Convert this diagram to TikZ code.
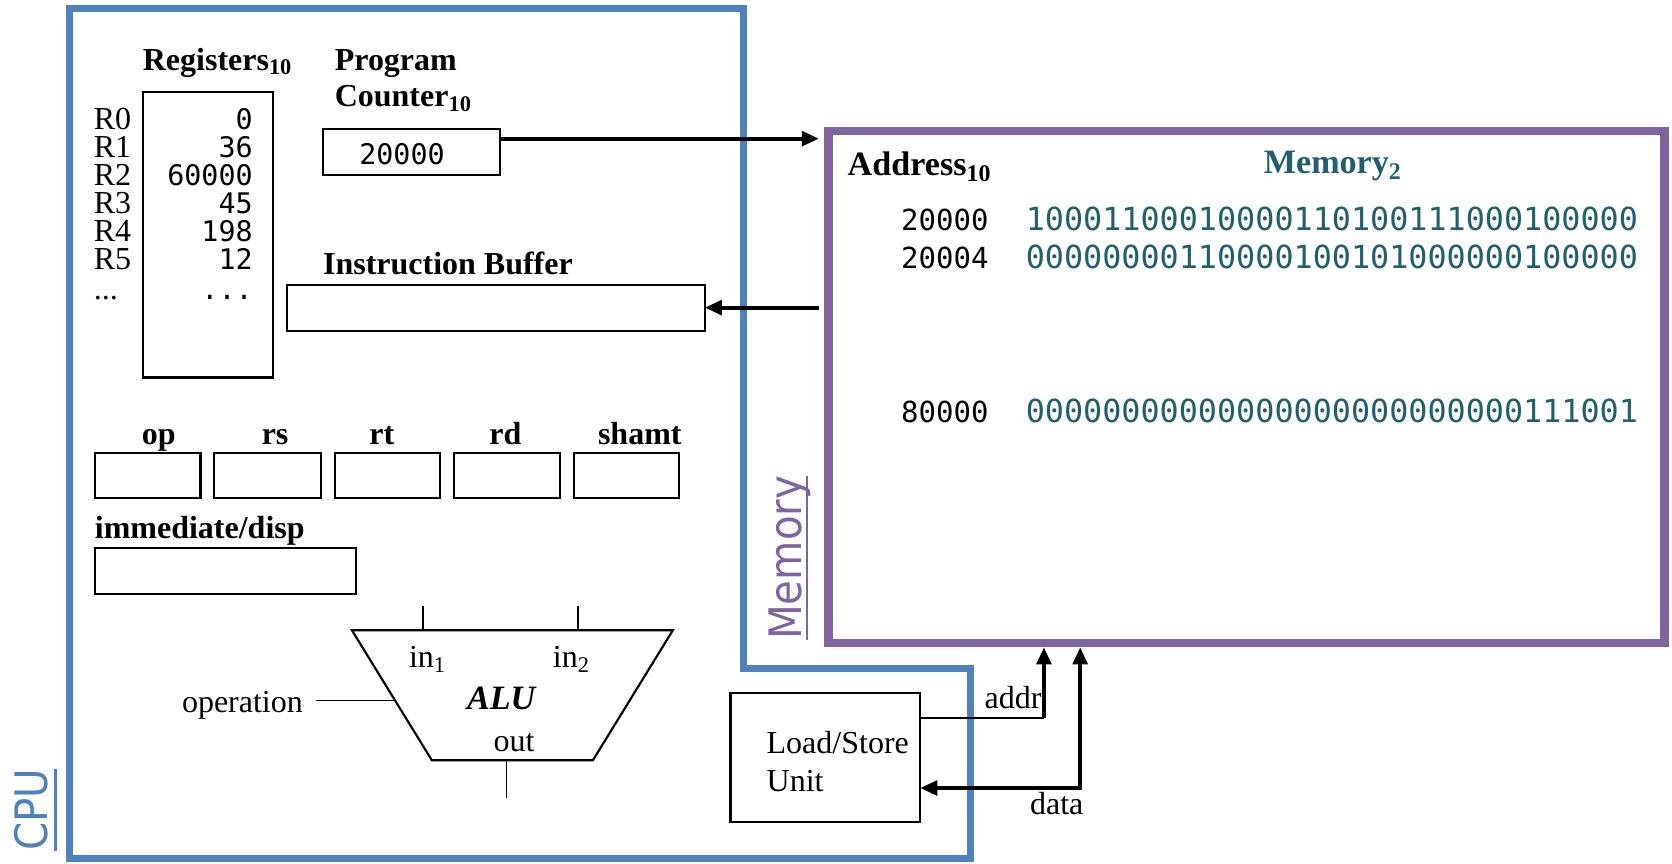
\documentclass[tikz,border=0pt]{standalone}
\usepackage{fontspec}
\setmainfont{Liberation Serif}
\setmonofont{DejaVu Sans Mono}
\newfontfamily\tagfont[FakeStretch=0.9]{DejaVu Sans}
\usepackage{tikz}
\usetikzlibrary{arrows.meta,positioning}
\definecolor{CpuBlue}{HTML}{4F81BD}
\definecolor{MemPurple}{HTML}{8064A2}
\definecolor{BitTeal}{HTML}{215E6E}

\begin{document}
\begin{tikzpicture}[
    x=0.5pt, y=-0.5pt,
    every node/.style={inner sep=0pt, outer sep=0pt},
    field/.style={rectangle, draw=black, line width=1pt, anchor=north west},
    hdr/.style={font=\fontsize{15}{18}\selectfont\bfseries},
    bighdr/.style={font=\fontsize{16}{19}\selectfont\bfseries},
    txt/.style={font=\fontsize{15}{18}\selectfont},
    mono/.style={font=\ttfamily\fontsize{13.3}{16}\selectfont},
    bits/.style={font=\ttfamily\fontsize{14.9}{18}\selectfont, text=BitTeal},
    tag/.style={font=\tagfont\fontsize{21}{24}\selectfont, rotate=90, anchor=base west},
    bus/.style={-{Triangle[length=8pt,width=6.8pt]}, line width=1.9pt},
    wire/.style={line width=0.8pt}
]
\useasboundingbox (0,0) rectangle (1568,810);

% CPU outline
\draw[CpuBlue, line width=3.5pt] (65,8) -- (697,8) -- (697,627) -- (910,627) -- (910,805) -- (65,805) -- cycle;
\node[tag, text=CpuBlue] (cputag) at (45,798) {CPU};
\draw[CpuBlue, line width=1pt] ([xshift=3.5pt]cputag.base west) -- ([xshift=3.5pt]cputag.base east);

% Memory box
\node[rectangle, draw=MemPurple, line width=4pt, anchor=north west, minimum width=392pt, minimum height=240pt] (mem) at (777,123) {};
\node[tag, text=MemPurple] (memtag) at (752,600) {Memory};
\draw[MemPurple, line width=1pt] ([xshift=2.5pt]memtag.base west) -- ([xshift=2.5pt]memtag.base east);

% Memory contents
\node[bighdr, anchor=base west] (addrhdr) at (795,165) {Address\textsubscript{10}};
\node[bighdr, text=BitTeal, anchor=base] (memhdr) at (1250,163) {Memory\textsubscript{2}};
\node[mono, font=\ttfamily\fontsize{13.6}{16}\selectfont, anchor=base east] (addr1) at (927,216) {20000};
\node[mono, font=\ttfamily\fontsize{13.6}{16}\selectfont, anchor=base east] (addr2) at (927,252) {20004};
\node[mono, font=\ttfamily\fontsize{13.6}{16}\selectfont, anchor=base east] (addr3) at (927,396) {80000};
\node[bits, anchor=base west] (word1) at (962,216) {10001100010000110100111000100000};
\node[bits, anchor=base west] (word2) at (962,252) {00000000110000100101000000100000};
\node[bits, anchor=base west] (word3) at (962,396) {00000000000000000000000000111001};

% Registers
\node[hdr, anchor=base west] (reglabel) at (134,66) {Registers\textsubscript{10}};
\node[field, minimum width=61pt, minimum height=134pt] (regs) at (134,86) {};
\foreach \reg/\val [count=\i from 0] in {R0/0,R1/36,R2/60000,R3/45,R4/198,R5/12} {
  \node[txt, anchor=base west] (regname\i) at (88,{121+26.4*\i}) {\reg};
  \node[mono, anchor=base east] (regval\i) at (237,{121+26.4*\i}) {\val};
}
\node[txt, anchor=base west] (regnamedots) at (88,281) {...};
\node[mono, anchor=base east] (regvaldots) at (237,281) {...};

% Program counter
\node[hdr, anchor=base west] (pclabel) at (314,66) {Program};
\node[hdr, anchor=base west] (pclabelb) at (314,100) {Counter\textsubscript{10}};
\node[field, minimum width=83pt, minimum height=21.5pt] (pc) at (303,121) {};
\node[mono] (pcval) at ([xshift=-4.5pt,yshift=-1.25pt]pc.center) {20000};

% Instruction buffer
\node[hdr, anchor=base west] (iblabel) at (303,257) {Instruction Buffer};
\node[field, minimum width=196pt, minimum height=21.5pt] (ib) at (269,267) {};

% Instruction fields
\node[field, minimum width=49.5pt, minimum height=21pt] (op) at (89,425) {};
\node[field, minimum width=50pt, minimum height=21pt, right=6.5pt of op] (rs) {};
\node[field, minimum width=49.5pt, minimum height=21pt, right=6.5pt of rs] (rt) {};
\node[field, minimum width=49.5pt, minimum height=21pt, right=6.5pt of rt] (rd) {};
\node[field, minimum width=49.5pt, minimum height=21pt, right=6.5pt of rd] (shamt) {};
\node[hdr, anchor=base] (oplabel) at (149,417) {op};
\node[hdr, anchor=base] (rslabel) at (258,417) {rs};
\node[hdr, anchor=base] (rtlabel) at (358,417) {rt};
\node[hdr, anchor=base] (rdlabel) at (474,417) {rd};
\node[hdr, anchor=base] (shamtlabel) at (600,417) {shamt};
\node[hdr, anchor=base west] (immlabel) at (89,505) {immediate/disp};
\node[field, minimum width=122.5pt, minimum height=21.5pt] (imm) at (89,514) {};

% ALU
\coordinate (alutl) at (330,591);
\coordinate (alutr) at (631,591);
\coordinate (alubr) at (556,713);
\coordinate (alubl) at (405,713);
\draw[line width=1pt] (alutl) -- (alutr) -- (alubr) -- (alubl) -- cycle;
\coordinate (aluin1) at (397,591);
\coordinate (aluin2) at (542,591);
\coordinate (aluout) at (475,713);
\coordinate (aluop) at (370,657);
\draw[wire] (aluin1) -- ++(0,-23);
\draw[wire] (aluin2) -- ++(0,-23);
\draw[wire] (aluout) -- ++(0,35);
\draw[wire] (aluop) -- ++(-74,0);
\node[txt, anchor=base] (in1label) at (401,626) {in\textsubscript{1}};
\node[txt, anchor=base] (in2label) at (536,626) {in\textsubscript{2}};
\node[hdr, font=\fontsize{16}{19}\selectfont\bfseries\itshape, anchor=base] (alulabel) at (470,665) {ALU};
\node[txt, anchor=base] (outlabel) at (482,705) {out};
\node[txt, anchor=base east] (oplabelb) at (284,668) {operation};

% Load/Store unit
\node[field, minimum width=89pt, minimum height=60.5pt] (lsu) at (685,650) {};
\node[txt, anchor=base west] (lsutext) at (719,707) {Load/Store};
\node[txt, anchor=base west] (lsutextb) at (719,742) {Unit};

% Connections
\coordinate (pcout) at ([yshift=6.25pt]pc.east);
\draw[bus, shorten >=4.5pt] (pcout) -- (pcout -| mem.west);
\draw[bus, shorten <=4.5pt] (ib.east -| mem.west) -- (ib.east);
\coordinate (addrbend) at (979,673);
\coordinate (databend) at (1013,739);
\draw[wire] (lsu.east |- addrbend) -- (addrbend);
\draw[bus, shorten >=2pt] (addrbend) -- (addrbend |- mem.south);
\draw[bus, {Triangle[length=8pt,width=6.8pt]}-{Triangle[length=8pt,width=6.8pt]}, shorten <=2pt] (databend |- mem.south) -- (databend) -- (databend -| lsu.east);
\node[txt, anchor=base] (addrlabel) at (950,664) {addr};
\node[txt, anchor=base] (datalabel) at (991,764) {data};

\end{tikzpicture}
\end{document}
